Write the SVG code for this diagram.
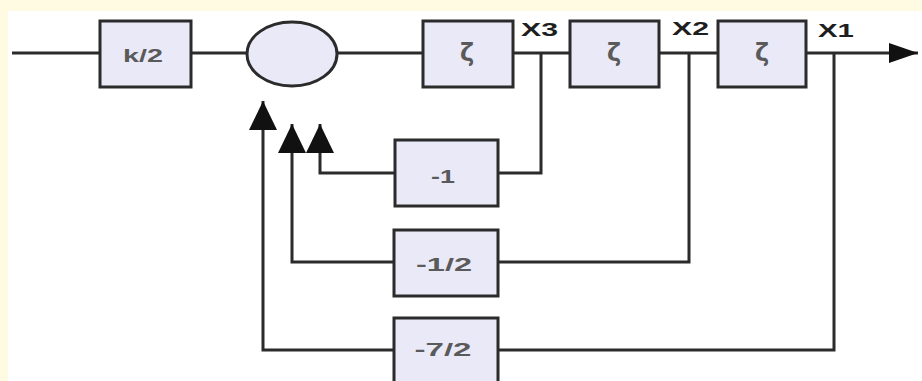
<svg xmlns="http://www.w3.org/2000/svg" width="922" height="381" viewBox="0 0 922 381">
<defs>
<style>
.box{fill:#e9e9f8;stroke:#2b2b2b;stroke-width:3}
.wire{fill:none;stroke:#2b2b2b;stroke-width:3}
.lbl{font-family:"Liberation Sans",Arial,sans-serif;font-weight:bold;font-size:19px;fill:#5a5a5a;text-anchor:middle}
.zeta{font-family:"DejaVu Sans","Liberation Sans",sans-serif;font-weight:bold;font-size:24px;fill:#5a5a5a;text-anchor:middle}
.sig{font-family:"Liberation Sans",Arial,sans-serif;font-weight:bold;font-size:18px;fill:#1e1e1e}
</style>
<marker id="ah" markerUnits="userSpaceOnUse" markerWidth="30" markerHeight="30" viewBox="0 0 30 30" refX="29" refY="15" orient="auto">
<path d="M0,1 L29,15 L0,29 Z" fill="#111"/>
</marker>
<marker id="ahm" markerUnits="userSpaceOnUse" markerWidth="30" markerHeight="24" viewBox="0 0 30 24" refX="29" refY="12" orient="auto">
<path d="M0,2 L29,12 L0,22 Z" fill="#111"/>
</marker>
</defs>
<rect x="0" y="0" width="922" height="381" fill="#fffbe2"/>
<rect x="8" y="11" width="914" height="370" fill="#ffffff"/>
<g id="connectors">
<path class="wire" d="M12,53 H100"/>
<path class="wire" d="M191,53 H247"/>
<path class="wire" d="M337,53 H423"/>
<path class="wire" d="M513,53 H570"/>
<path class="wire" d="M659,53 H718"/>
<path class="wire" d="M806,53 H918" marker-end="url(#ahm)"/>
<path class="wire" d="M541,53 V173 H498"/>
<path class="wire" d="M395,173 H320 V124" marker-end="url(#ah)"/>
<path class="wire" d="M689,53 V262 H498"/>
<path class="wire" d="M393,262 H292 V124" marker-end="url(#ah)"/>
<path class="wire" d="M834,53 V350 H498"/>
<path class="wire" d="M393,350 H263 V101" marker-end="url(#ah)"/>
</g>
<g id="gain-k2"><rect class="box" x="100" y="21" width="91" height="66"/><text class="lbl" x="143" y="62" textLength="40" lengthAdjust="spacingAndGlyphs">k/2</text></g>
<g id="sum"><ellipse class="box" cx="292" cy="54" rx="45" ry="32"/></g>
<g id="zeta1"><rect class="box" x="423" y="21" width="90" height="66"/><text class="zeta" x="467" y="61">ζ</text></g>
<g id="zeta2"><rect class="box" x="570" y="21" width="89" height="66"/><text class="zeta" x="614" y="61">ζ</text></g>
<g id="zeta3"><rect class="box" x="718" y="21" width="88" height="66"/><text class="zeta" x="762" y="61">ζ</text></g>
<g id="label-x3"><text class="sig" x="521" y="36" textLength="37" lengthAdjust="spacingAndGlyphs">X3</text></g>
<g id="label-x2"><text class="sig" x="672" y="35" textLength="37" lengthAdjust="spacingAndGlyphs">X2</text></g>
<g id="label-x1"><text class="sig" x="818" y="37" textLength="36" lengthAdjust="spacingAndGlyphs">X1</text></g>
<g id="gain-m1"><rect class="box" x="395" y="140" width="103" height="66"/><text class="lbl" x="443" y="183" textLength="24" lengthAdjust="spacingAndGlyphs">-1</text></g>
<g id="gain-m12"><rect class="box" x="394" y="230" width="104" height="66"/><text class="lbl" x="444" y="271" textLength="56" lengthAdjust="spacingAndGlyphs">-1/2</text></g>
<g id="gain-m72"><rect class="box" x="394" y="318" width="104" height="68"/><text class="lbl" x="443" y="356" textLength="57" lengthAdjust="spacingAndGlyphs">-7/2</text></g>
</svg>
